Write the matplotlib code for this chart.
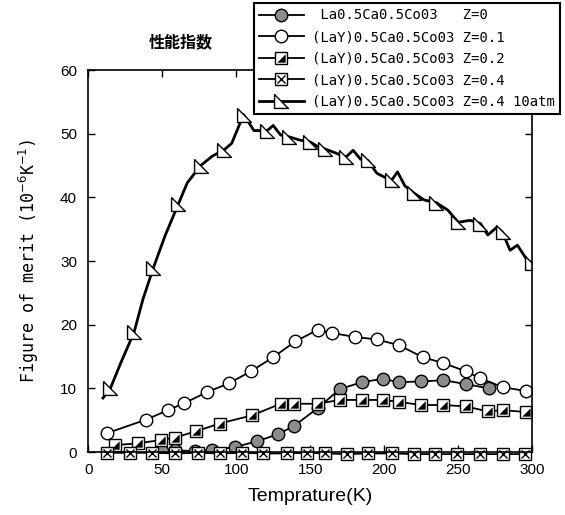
import matplotlib
matplotlib.use('Agg')
import matplotlib.pyplot as plt
from matplotlib.legend_handler import HandlerTuple

# 性能指数 vs 温度
T_z0 = [50, 59, 72, 84, 99, 114, 128, 139, 155, 170, 185, 199, 210, 225, 240, 255, 271]
v_z0 = [0.2, 0.3, 0.15, 0.3, 0.8, 1.7, 2.8, 4.1, 6.9, 9.9, 11.0, 11.5, 11.0, 11.1, 11.3, 10.7, 10.0]

T_z01 = [13, 39, 54, 65, 80, 95, 110, 125, 140, 155, 165, 180, 195, 210, 226, 240, 255, 265, 280, 296]
v_z01 = [3.0, 5.1, 6.6, 7.7, 9.4, 10.8, 12.7, 14.9, 17.4, 19.2, 18.7, 18.1, 17.7, 16.8, 14.9, 14.0, 12.7, 11.6, 10.2, 9.6]

T_z02 = [18, 34, 49, 59, 73, 89, 111, 130, 139, 155, 170, 185, 199, 210, 225, 240, 255, 270, 280, 296]
v_z02 = [1.1, 1.4, 1.9, 2.3, 3.3, 4.5, 5.8, 7.6, 7.6, 7.6, 8.2, 8.2, 8.2, 7.9, 7.4, 7.4, 7.2, 6.4, 6.6, 6.3]

T_z04 = [13, 28, 43, 59, 74, 89, 104, 118, 134, 148, 160, 175, 189, 205, 220, 234, 249, 265, 280, 295]
v_z04 = [-0.1, -0.1, -0.1, -0.2, -0.1, -0.2, -0.1, -0.2, -0.2, -0.1, -0.2, -0.3, -0.2, -0.2, -0.3, -0.3, -0.3, -0.3, -0.3, -0.3]

T_atm = [10, 15, 22, 31, 37, 44, 52, 61, 67, 76, 84, 92, 97, 105, 112, 121, 125, 130, 136, 143,
         150, 155, 160, 167, 174, 179, 184, 189, 195, 200, 205, 209, 214, 220, 227, 235, 243,
         250, 258, 265, 270, 276, 280, 285, 290, 297, 300]
v_atm = [8.5, 10.0, 14.0, 18.8, 24.0, 28.9, 34.0, 39.0, 42.3, 45.0, 46.5, 47.5, 48.5, 53.0, 50.5,
         50.5, 51.3, 49.8, 49.5, 49.0, 48.7, 48.0, 47.6, 47.0, 46.3, 47.4, 46.0, 45.8, 43.8, 43.2,
         42.7, 44.0, 41.8, 40.7, 39.6, 39.2, 38.0, 36.1, 36.4, 35.9, 34.1, 35.3, 34.5, 31.7, 32.5,
         30.0, 29.7]
atm_marks = [1, 3, 5, 7, 9, 11, 13, 15, 18, 20, 22, 24, 27, 30, 33, 35, 37, 39, 42, 46]

labels = [' La0.5Ca0.5Co03   Z=0',
          '(LaY)0.5Ca0.5Co03 Z=0.1',
          '(LaY)0.5Ca0.5Co03 Z=0.2',
          '(LaY)0.5Ca0.5Co03 Z=0.4',
          '(LaY)0.5Ca0.5Co03 Z=0.4 10atm']

RTRI = [(-1, 1), (-1, -1), (1, -1), (-1, 1)]     # 直角三角形マーカー
HALF = [(1, -1), (1, 1), (-1, -1), (1, -1)]      # 右下半分


def main():
    fig = plt.figure(figsize=(5.65, 5.15), dpi=100)
    ax = fig.add_axes([0.156, 0.122, 0.786, 0.742])

    h0, = ax.plot(T_z0, v_z0, '-', color='k', lw=1.3, marker='o', ms=9,
                  mfc='#8c8c8c', mec='k', mew=1.0)
    h1, = ax.plot(T_z01, v_z01, '-', color='k', lw=1.3, marker='o', ms=9,
                  mfc='white', mec='k', mew=1.0)
    h2a, = ax.plot(T_z02, v_z02, '-', color='k', lw=1.3, marker='s', ms=8.5,
                   mfc='white', mec='k', mew=1.0)
    h2b, = ax.plot(T_z02, v_z02, ls='none', marker=HALF, ms=6, mfc='k', mec='none', mew=0)
    h3a, = ax.plot(T_z04, v_z04, '-', color='k', lw=1.3, marker='s', ms=8.5,
                   mfc='white', mec='k', mew=1.0, clip_on=False)
    h3b, = ax.plot(T_z04, v_z04, ls='none', marker='x', ms=6, mec='k', mew=1.0, clip_on=False)
    h4, = ax.plot(T_atm, v_atm, '-', color='k', lw=2.0, marker=RTRI, ms=10,
                  mfc='white', mec='k', mew=1.0, markevery=atm_marks)

    ax.set_xlim(0, 300)
    ax.set_ylim(0, 60)
    ax.set_xticks([0, 50, 100, 150, 200, 250, 300])
    ax.set_yticks([0, 10, 20, 30, 40, 50, 60])
    ax.tick_params(direction='in', top=True, right=True, length=5, width=1,
                   labelsize=11, pad=8)
    for lab in ax.get_xticklabels() + ax.get_yticklabels():
        lab.set_family('Liberation Sans')
    for sp in ax.spines.values():
        sp.set_linewidth(1.2)

    ax.set_xlabel('Temprature(K)', family='Liberation Sans', fontsize=14, labelpad=8)
    ax.set_ylabel('Figure of merit (10$^{-6}$K$^{-1}$)', family='DejaVu Sans Mono',
                  fontsize=12, labelpad=14)

    fig.text(0.32, 0.917, '性能指数', family=['Noto Sans CJK JP', 'DejaVu Sans'],
             fontsize=11.5, fontweight='bold', ha='center', va='center')

    leg = fig.legend([h0, h1, (h2a, h2b), (h3a, h3b), h4], labels,
                     loc='upper right', bbox_to_anchor=(1.004, 1.008),
                     handler_map={tuple: HandlerTuple(ndivide=1, pad=0)},
                     prop={'family': 'DejaVu Sans Mono', 'size': 10},
                     handlelength=3.2, labelspacing=0.55, handletextpad=0.6,
                     borderpad=0.4, fancybox=False, edgecolor='k', framealpha=1)
    leg.get_frame().set_linewidth(1.5)

    fig.savefig('out.png', dpi=100)


if __name__ == '__main__':
    main()
